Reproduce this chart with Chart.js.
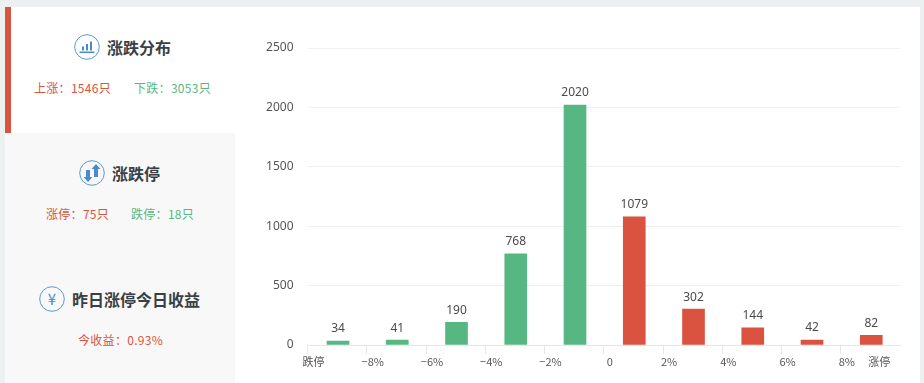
<!DOCTYPE html>
<html lang="zh">
<head>
<meta charset="utf-8">
<title>涨跌分布</title>
<script src="https://cdn.jsdelivr.net/npm/chart.js@4/dist/chart.umd.min.js"></script>
<style>
* { box-sizing: border-box; }
html, body { margin: 0; width: 924px; height: 383px; overflow: hidden; background: #ecf0f1; font-family: "Noto Sans CJK SC", "Noto Sans", sans-serif; }
#page { position: absolute; left: 5px; top: 7px; width: 915px; height: 376px; background: #fff; }
#redbar { position: absolute; left: 0; top: 0; width: 6px; height: 126px; background: #d95340; }
#lower { position: absolute; left: 0; top: 126px; width: 230px; height: 250px; background: #f8f8f8; }
.title { position: absolute; display: flex; align-items: center; font-size: 16px; font-weight: 700; color: #3a3f45; line-height: 26px; white-space: nowrap; }
.title svg { margin-right: 7px; display: block; }
.stat { position: absolute; font-size: 12px; line-height: 18px; letter-spacing: 0.3px; white-space: nowrap; }
.up { color: #d95340; }
.down { color: #57b782; }
#chart { position: absolute; left: 235px; top: 0; }
</style>
</head>
<body>
<div id="page">
  <div id="redbar"></div>
  <div id="lower"></div>
  <div class="title" style="left:69px;top:27px">
    <svg width="26" height="26" viewBox="0 0 26 26"><circle cx="13" cy="13" r="12.3" fill="none" stroke="#5b9bd5" stroke-width="1"/><g fill="#4a8bcc"><rect x="5.5" y="17.5" width="15" height="1.6"/><rect x="8" y="12.5" width="2" height="4"/><rect x="12" y="10" width="2" height="6.5"/><rect x="16" y="7.5" width="2" height="9"/></g></svg>
    <span>涨跌分布</span>
  </div>
  <div class="stat up" style="left:29px;top:72px">上涨：1546只</div>
  <div class="stat down" style="left:129px;top:72px">下跌：3053只</div>

  <div class="title" style="left:74px;top:153px">
    <svg width="26" height="26" viewBox="0 0 26 26"><circle cx="13" cy="13" r="12.3" fill="none" stroke="#5b9bd5" stroke-width="1"/><g fill="#4a8bcc"><path d="M7 10h4v7h2.5L9 22l-4.5-5H7z"/><path d="M15 17V9h-2.5L17 4l4.5 5H19v8z"/></g></svg>
    <span>涨跌停</span>
  </div>
  <div class="stat up" style="left:41px;top:198px">涨停：75只</div>
  <div class="stat down" style="left:126px;top:198px">跌停：18只</div>

  <div class="title" style="left:34px;top:279px">
    <svg width="26" height="26" viewBox="0 0 26 26"><circle cx="13" cy="13" r="12.3" fill="none" stroke="#5b9bd5" stroke-width="1"/><text x="13" y="18.5" text-anchor="middle" font-size="15" fill="#4a8bcc" font-weight="400">¥</text></svg>
    <span>昨日涨停今日收益</span>
  </div>
  <div class="stat up" style="left:73px;top:324px">今收益：0.93%</div>

  <canvas id="chart" width="680" height="376"></canvas>
</div>

<script>
// 涨跌分布数据
const categories = ['跌停~-8%', '-8%~-6%', '-6%~-4%', '-4%~-2%', '-2%~0', '0~2%', '2%~4%', '4%~6%', '6%~8%', '8%~涨停'];
const counts = [34, 41, 190, 768, 2020, 1079, 302, 144, 42, 82];
const barColors = ['#57b782', '#57b782', '#57b782', '#57b782', '#57b782', '#d95340', '#d95340', '#d95340', '#d95340', '#d95340'];
const tickPositions = [0, 1, 2, 3, 4, 5, 6, 7, 8, 9, 9.55];
const tickLabels = ['跌停', '−8%', '−6%', '−4%', '−2%', '0', '2%', '4%', '6%', '8%', '涨停'];
const yTicks = [0, 500, 1000, 1500, 2000, 2500];

const points = counts.map((v, i) => ({ x: i + 0.515, y: v, name: categories[i] }));

// Afficher la valeur au-dessus de chaque barre
const barValues = {
    id: 'barValues',
    afterDatasetsDraw(chart) {
        const ctx = chart.ctx;
        const meta = chart.getDatasetMeta(0);
        ctx.save();
        ctx.font = '12px "Noto Sans", sans-serif';
        ctx.fillStyle = '#4a4a4a';
        ctx.textAlign = 'center';
        ctx.textBaseline = 'middle';
        meta.data.forEach((bar, i) => {
            ctx.fillText(counts[i], bar.x, bar.y - 12);
        });
        ctx.restore();
    }
};

new Chart(document.getElementById('chart'), {
    type: 'bar',
    data: {
        datasets: [{
            data: points,
            backgroundColor: barColors,
            borderWidth: 0,
            barThickness: 22
        }]
    },
    plugins: [barValues],
    options: {
        responsive: false,
        animation: false,
        layout: { padding: { top: 41, right: 20, bottom: 0, left: 0 } },
        plugins: {
            legend: { display: false },
            tooltip: { enabled: false }
        },
        scales: {
            x: {
                type: 'linear',
                offset: false,
                min: 0,
                max: 10,
                afterBuildTicks(axis) {
                    axis.ticks = tickPositions.map(v => ({ value: v }));
                },
                afterFit(axis) { axis.height = 38; },
                border: { color: '#e6e6e6', width: 1 },
                grid: {
                    offset: false,
                    drawOnChartArea: false,
                    drawTicks: true,
                    tickLength: 9,
                    tickColor: ctx => (ctx.index === 10 ? 'rgba(0,0,0,0)' : '#e6e6e6')
                },
                ticks: {
                    autoSkip: false,
                    maxRotation: 0,
                    labelOffset: 6,
                    padding: 1,
                    color: '#555',
                    font: { size: 11, family: '"Noto Sans CJK SC", "Noto Sans", sans-serif' },
                    callback: (value, index) => tickLabels[index]
                }
            },
            y: {
                min: 0,
                max: 2500,
                afterBuildTicks(axis) {
                    axis.ticks = yTicks.map(v => ({ value: v }));
                },
                afterFit(axis) { axis.width = 67.5; },
                border: { display: false },
                grid: { color: '#efefef', drawTicks: false },
                ticks: {
                    padding: 14,
                    color: '#555',
                    font: { size: 12, family: '"Noto Sans", sans-serif' },
                    callback: value => String(value)
                }
            }
        }
    }
});
</script>
</body>
</html>
